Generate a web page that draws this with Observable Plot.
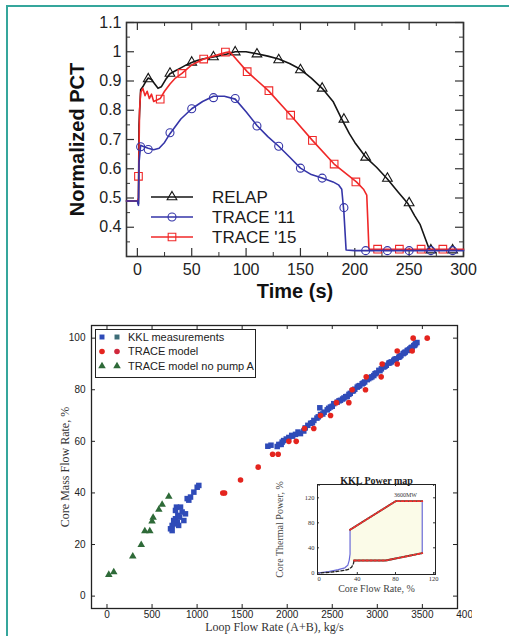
<!DOCTYPE html>
<html><head><meta charset="utf-8">
<script src="https://cdn.jsdelivr.net/npm/d3@7"></script>
<script src="https://cdn.jsdelivr.net/npm/@observablehq/plot@0.6"></script>
<style>
body{margin:0;background:#fff;width:509px;height:636px;position:relative;overflow:hidden;font-family:Liberation Sans,Arial,sans-serif}
.abs{position:absolute}
svg{max-width:none !important}
</style></head><body>
<div class="abs" style="left:6px;top:5px;width:600px;height:700px;border-top:2px solid #35a69c;border-left:2px solid #35a69c"></div>
<div id="top" class="abs" style="left:0;top:0;width:509px;height:310px"></div>
<div id="botclip" class="abs" style="left:0;top:310px;width:472px;height:326px;overflow:hidden"><div id="bot" style="width:509px"></div></div>
<div id="inset" class="abs" style="left:270px;top:465px"></div>
<svg id="leg1" class="abs" style="left:140px;top:185px" width="180" height="62"></svg>
<svg id="leg2" class="abs" style="left:95px;top:329px" width="161" height="49"></svg>
<script>
// ---------- Top chart: Normalized PCT vs time ----------
const relapT = [-10, 0, 1, 1.5, 3, 5, 8, 10, 13, 16, 19, 22, 26, 30, 35, 40, 45, 50, 55, 60, 70, 80, 90, 100, 110, 120, 130, 140, 150, 160, 170, 180, 188, 195, 200, 210, 220, 230, 240, 249, 255, 260, 265, 268, 270, 280, 290, 300];
const relapV = [0.49, 0.49, 0.48, 0.75, 0.87, 0.88, 0.9, 0.91, 0.905, 0.89, 0.875, 0.88, 0.905, 0.925, 0.935, 0.945, 0.955, 0.963, 0.97, 0.975, 0.982, 0.99, 1.0, 1.0, 0.993, 0.985, 0.975, 0.96, 0.94, 0.91, 0.875, 0.83, 0.77, 0.72, 0.69, 0.64, 0.605, 0.565, 0.52, 0.48, 0.44, 0.41, 0.36, 0.33, 0.322, 0.322, 0.322, 0.322];
const relapMkT = [10, 30, 50, 70, 90, 110, 130, 150, 170, 190, 210, 230, 250, 270, 290];
const relapMkV = [0.907, 0.926, 0.964, 0.982, 0.999, 0.992, 0.972, 0.938, 0.875, 0.769, 0.639, 0.567, 0.483, 0.322, 0.322];
const trace11T = [-10, 0, 1, 1.5, 3, 6, 10, 15, 20, 25, 30, 40, 50, 60, 70, 80, 90, 100, 110, 120, 130, 140, 150, 160, 170, 180, 185, 188, 190, 192, 200, 250, 300];
const trace11V = [0.49, 0.49, 0.475, 0.62, 0.68, 0.675, 0.67, 0.665, 0.67, 0.69, 0.72, 0.77, 0.805, 0.83, 0.848, 0.848, 0.838, 0.795, 0.748, 0.71, 0.677, 0.64, 0.602, 0.58, 0.568, 0.555, 0.545, 0.53, 0.45, 0.322, 0.32, 0.32, 0.32];
const trace11MkT = [3, 10, 30, 50, 70, 90, 110, 130, 150, 170, 190, 210, 230, 250, 270, 290];
const trace11MkV = [0.675, 0.666, 0.723, 0.805, 0.843, 0.84, 0.746, 0.677, 0.602, 0.568, 0.467, 0.32, 0.32, 0.32, 0.32, 0.32];
const trace15T = [-10, 0, 1, 2, 3, 5, 7, 9, 11, 13, 15, 18, 21, 25, 30, 35, 41, 50, 61, 70, 81, 85, 101, 120.5, 141, 161, 181, 201.5, 208, 211, 212, 213, 220, 300];
const trace15V = [0.49, 0.49, 0.5, 0.8, 0.86, 0.875, 0.85, 0.865, 0.84, 0.855, 0.83, 0.835, 0.84, 0.865, 0.89, 0.91, 0.926, 0.955, 0.975, 0.985, 0.997, 1.0, 0.932, 0.867, 0.783, 0.697, 0.616, 0.555, 0.53, 0.51, 0.42, 0.325, 0.325, 0.325];
const trace15MkT = [1, 21, 41, 61, 81, 101, 121, 141, 161, 181, 201, 221, 241, 261, 281];
const trace15MkV = [0.574, 0.838, 0.926, 0.975, 0.999, 0.932, 0.867, 0.783, 0.697, 0.616, 0.555, 0.325, 0.325, 0.325, 0.325];
const seriesNames = ["RELAP", "TRACE '11", "TRACE '15"];
const seriesColors = ["#151515", "#3535a8", "#f02828"];
const seriesSymbols = ["triangle", "circle", "square"];
const seriesR = [3.6, 4, 4.3];
const topXMajor = [0, 50, 100, 150, 200, 250, 300];
const topXMinor = [25, 75, 125, 175, 225, 275];
const topYMajor = [0.4, 0.5, 0.6, 0.7, 0.8, 0.9, 1, 1.1];
const topYMinor = [0.35, 0.45, 0.55, 0.65, 0.75, 0.85, 0.95, 1.05];

// ---------- Bottom chart: core mass flow vs loop flow ----------
const kklX = [705, 723, 723, 740, 745, 760, 760, 771, 780, 786, 795, 805, 816, 834, 853, 871, 890, 908, 927, 964, 1001, 1019,
  1785, 1820, 1889, 1907, 1933, 1944, 1960, 1990, 2018, 2050, 2060, 2092, 2120, 2147, 2184, 2200, 2229, 2260, 2280, 2296, 2330, 2345, 2362, 2370, 2395, 2410, 2444, 2460, 2480, 2500, 2517, 2555, 2575, 2591, 2615, 2630, 2650, 2666, 2685, 2700, 2721, 2735, 2750, 2777, 2790, 2805, 2832, 2845, 2860, 2888, 2905, 2925, 2940, 2961, 2975, 2990, 3017, 3030, 3045, 3072, 3085, 3100, 3128, 3140, 3155, 3183, 3195, 3210, 3239, 3250, 3262, 3287, 3300, 3310, 3332, 3345, 3360, 3375, 3387, 3405, 3415, 3424, 3440];
const kklY = [26.1, 25.4, 27.4, 29.3, 28, 33.2, 30, 34.5, 28.5, 31.3, 27.4, 30.6, 34.5, 32.6, 29.3, 31.9, 37.8, 37.2, 38.4, 40.3, 42.2, 42.9,
  58.1, 58.5, 58, 58.8, 58.8, 59.7, 60.3, 60.9, 61.5, 62.3, 62, 62.7, 63.6, 63, 64, 65.2, 66.2, 67, 67.2, 68.1, 69, 69.5, 73, 70.4, 70.6, 71.3, 72.2, 72.8, 73.3, 73.6, 74.6, 75.2, 75.7, 75.9, 76.4, 76.8, 77.3, 77.4, 78.2, 78.6, 79.5, 79.6, 80.2, 81, 81.4, 81.6, 82.3, 82.6, 83, 83.9, 84.3, 84.7, 85, 85.5, 86.2, 86.5, 87.5, 87.4, 88.1, 88.8, 89.1, 89.5, 90.3, 90.5, 90.8, 91.4, 91.8, 92, 92.6, 92.9, 93.3, 94, 94.3, 94.6, 95.2, 95.4, 95.8, 96.3, 96.5, 97.1, 97.3, 97.8, 98.3];
const traceX = [1285, 1305, 1482, 1678, 1838, 1900, 2018, 2100, 2192, 2295, 2370, 2481, 2547, 2684, 2721, 2869, 2877, 3043, 3054, 3221, 3221, 3387, 3398, 3554];
const traceY = [40, 40, 45, 50, 55, 55, 60, 60, 65, 65, 70, 70, 75, 75, 80, 80, 85, 85, 90, 90, 95, 95, 100, 100];
const noPumpX = [20, 75, 286, 380, 420, 475, 500, 512, 575, 612, 686];
const noPumpY = [8.3, 9.3, 15.4, 19.9, 25.2, 25.2, 29, 30.4, 33.5, 35.5, 38.6];
const botXTicks = [0, 500, 1000, 1500, 2000, 2500, 3000, 3500, 4000];
const botYTicks = [0, 20, 40, 60, 80, 100];
const botNames = ["KKL measurements", "TRACE model", "TRACE model no pump A"];

// ---------- Inset: KKL power map ----------
const upperX = [32.4, 80.1, 108], upperY = [68.8, 114.6, 114.6];
const lowerX = [36.6, 69.7, 108], lowerY = [19.7, 19.7, 31.4];
const rightX = [108, 108], rightY = [114.6, 31.4];
const leftX = [0, 10, 20, 27, 30, 31.5, 32.4, 32.4], leftY = [0, 2, 5, 8, 12, 20, 30, 68.8];
const lowX = [2, 12, 22, 30, 34, 36, 36.6], lowY = [0, 1, 3, 5, 9, 15, 19.7];
const insetTicks = [0, 40, 80, 120];
const insetNote = [{x: 90.5, y: 125, label: "3600MW"}];

const pts = (xs, ys) => xs.map((x, i) => ({x, y: ys[i]}));
const sans = "Liberation Sans, Arial, sans-serif";
const serif = "Liberation Serif, Times New Roman, serif";

// Top chart
{
  const H = 234, Wd = 337;
  const lineSets = [[relapT, relapV, relapMkT, relapMkV, 0], [trace15T, trace15V, trace15MkT, trace15MkV, 2], [trace11T, trace11V, trace11MkT, trace11MkV, 1]];
  const marks = [];
  lineSets.forEach(s => {
    const i = s[4];
    marks.push(Plot.line(pts(s[0], s[1]), {x: "x", y: "y", stroke: seriesColors[i], strokeWidth: 1.6}));
    marks.push(Plot.dot(pts(s[2], s[3]), {x: "x", y: "y", symbol: seriesSymbols[i], r: seriesR[i], stroke: seriesColors[i], strokeWidth: 1.1, fill: "none"}));
  });
  const p = Plot.plot({
    width: 509, height: 310, marginTop: 22, marginRight: 46, marginBottom: 54, marginLeft: 126,
    style: {fontFamily: sans, fontSize: "16px", background: "transparent", color: "#222"},
    x: {domain: [-10, 300]}, y: {domain: [0.3, 1.1]},
    marks: [
      Plot.frame({stroke: "#333", strokeWidth: 1.6}),
      Plot.ruleX(topXMajor, {insetTop: H - 8, stroke: "#333", strokeWidth: 1.2}),
      Plot.ruleX(topXMajor, {insetBottom: H - 8, stroke: "#333", strokeWidth: 1.2}),
      Plot.ruleX(topXMinor, {insetTop: H - 4, stroke: "#333", strokeWidth: 1}),
      Plot.ruleX(topXMinor, {insetBottom: H - 4, stroke: "#333", strokeWidth: 1}),
      Plot.ruleY(topYMajor, {insetLeft: Wd - 8, stroke: "#333", strokeWidth: 1.2}),
      Plot.ruleY(topYMajor, {insetRight: Wd - 8, stroke: "#333", strokeWidth: 1.2}),
      Plot.ruleY(topYMinor, {insetLeft: Wd - 4, stroke: "#333", strokeWidth: 1}),
      Plot.ruleY(topYMinor, {insetRight: Wd - 4, stroke: "#333", strokeWidth: 1}),
      Plot.axisX({ticks: topXMajor, tickSize: 0, tickPadding: 7, tickFormat: d => String(d), label: null}),
      Plot.axisY({ticks: topYMajor, tickSize: 0, tickPadding: 5, tickFormat: d => String(d), label: null}),
      ...marks,
      Plot.text(["Normalized PCT"], {frameAnchor: "left", dx: -49, rotate: -90, textAnchor: "middle", fontWeight: "bold", fontSize: 20, fill: "#111"}),
      Plot.text(["Time (s)"], {frameAnchor: "bottom", dy: 41, fontWeight: "bold", fontSize: 20, fill: "#111"})
    ]
  });
  document.getElementById("top").append(p);
}

// Top legend
{
  const svg = d3.select("#leg1");
  seriesNames.forEach((n, i) => {
    const y = 12 + i * 20;
    svg.append("line").attr("x1", 11).attr("x2", 53).attr("y1", y).attr("y2", y).attr("stroke", seriesColors[i]).attr("stroke-width", 1.6);
    const sym = {triangle: d3.symbolTriangle, circle: d3.symbolCircle, square: d3.symbolSquare}[seriesSymbols[i]];
    svg.append("path").attr("d", d3.symbol(sym, Math.PI * seriesR[i] * seriesR[i])()).attr("transform", `translate(32,${y})`)
      .attr("fill", "none").attr("stroke", seriesColors[i]).attr("stroke-width", 1.1);
    svg.append("text").attr("x", 72).attr("y", y).attr("dy", "0.36em").attr("font-size", 17).attr("font-family", sans).attr("fill", "#1a1a1a").text(n);
  });
}

// Bottom chart
{
  const H = 283, Wd = 366;
  const p = Plot.plot({
    width: 509, height: 326, marginTop: 15, marginRight: 52, marginBottom: 28, marginLeft: 91,
    style: {fontFamily: sans, fontSize: "10px", background: "transparent", color: "#222"},
    x: {domain: [-172, 3890], axis: null}, y: {domain: [-4.8, 104.9]},
    marks: [
      Plot.frame({stroke: "#222", strokeWidth: 1.3}),
      Plot.ruleX(botXTicks.filter(d => d < 3890), {insetTop: H - 4, stroke: "#222"}),
      Plot.ruleX(botXTicks.filter(d => d < 3890), {insetBottom: H - 4, stroke: "#222"}),
      Plot.ruleY(botYTicks, {insetLeft: Wd - 4, stroke: "#222"}),
      Plot.ruleY(botYTicks, {insetRight: Wd - 4, stroke: "#222"}),
      Plot.text(botXTicks, {x: d => d, frameAnchor: "bottom", dy: 9, text: d => String(d), fontSize: 10, fill: "#222"}),
      Plot.axisY({ticks: botYTicks, tickSize: 0, tickPadding: 6, tickFormat: d => String(d), label: null}),
      Plot.dot(pts(noPumpX, noPumpY), {x: "x", y: "y", symbol: "triangle", r: 2.8, fill: "#2e6a38"}),
      Plot.dot(pts(kklX, kklY), {x: "x", y: "y", symbol: "square", r: 3.1, fill: "#2f4bb8"}),
      Plot.dot(pts(traceX, traceY), {x: "x", y: "y", r: 2.8, fill: "#e4241e"}),
      Plot.text(["Core Mass Flow Rate, %"], {frameAnchor: "left", dx: -26, rotate: -90, textAnchor: "middle", fontFamily: serif, fontSize: 12, fill: "#333"}),
      Plot.text(["Loop Flow Rate (A+B), kg/s"], {frameAnchor: "bottom", dy: 22, fontFamily: serif, fontSize: 12, fill: "#333"})
    ]
  });
  document.getElementById("bot").append(p);
}

// Bottom legend
{
  const svg = d3.select("#leg2");
  svg.append("rect").attr("x", 0.5).attr("y", 0.5).attr("width", 160).attr("height", 48).attr("fill", "#fff").attr("stroke", "#222");
  const cols = [["#2f4bb8", "#3d6d78"], ["#e4241e", "#d0283c"], ["#2e6a38", "#2e6a38"]];
  const syms = [d3.symbolSquare, d3.symbolCircle, d3.symbolTriangle];
  botNames.forEach((n, i) => {
    const y = 8 + i * 14.5;
    [7, 22].forEach((x, j) => {
      svg.append("path").attr("d", d3.symbol(syms[i], Math.PI * 2.8 * 2.8)()).attr("transform", `translate(${x},${y})`).attr("fill", cols[i][j]);
    });
    svg.append("text").attr("x", 33).attr("y", y).attr("dy", "0.36em").attr("font-size", 11).attr("font-family", sans).attr("fill", "#222").text(n);
  });
}

// Inset
{
  const H = 90, Wd = 118;
  const poly = [...pts(upperX, upperY), ...pts(rightX, rightY), ...pts(lowerX, lowerY).reverse(), ...pts(leftX, leftY).slice(5)];
  const p = Plot.plot({
    width: 180, height: 135, marginTop: 19, marginRight: 15, marginBottom: 26, marginLeft: 47,
    style: {fontFamily: serif, fontSize: "6.5px", background: "transparent", color: "#333"},
    x: {domain: [-1.7, 121.9]}, y: {domain: [-2.7, 141.3]},
    marks: [
      Plot.frame({fill: "#fff"}),
      Plot.line(poly, {x: "x", y: "y", fill: "#fbfbe8", stroke: "none"}),
      Plot.ruleX(insetTicks, {insetTop: H - 2, stroke: "#333"}),
      Plot.ruleX(insetTicks, {insetBottom: H - 2, stroke: "#333"}),
      Plot.ruleY(insetTicks, {insetLeft: Wd - 2, stroke: "#333"}),
      Plot.ruleY(insetTicks, {insetRight: Wd - 2, stroke: "#333"}),
      Plot.axisX({ticks: insetTicks, tickSize: 0, tickPadding: 2, tickFormat: d => String(d), label: null}),
      Plot.axisY({ticks: insetTicks, tickSize: 0, tickPadding: 3, tickFormat: d => String(d), label: null}),
      Plot.line(pts(leftX, leftY), {x: "x", y: "y", stroke: "#6a6ad8", strokeWidth: 1.2}),
      Plot.line(pts(rightX, rightY), {x: "x", y: "y", stroke: "#6a6ad8", strokeWidth: 1.2}),
      Plot.line(pts(lowX, lowY), {x: "x", y: "y", stroke: "#222", strokeWidth: 1.3, strokeDasharray: "3,2"}),
      Plot.line(pts(upperX, upperY), {x: "x", y: "y", stroke: "#2a4a30", strokeWidth: 1.8}),
      Plot.line(pts(upperX, upperY), {x: "x", y: "y", stroke: "#f03030", strokeWidth: 1.8, strokeDasharray: "2,2"}),
      Plot.line(pts(lowerX, lowerY), {x: "x", y: "y", stroke: "#2a4a30", strokeWidth: 1.8}),
      Plot.line(pts(lowerX, lowerY), {x: "x", y: "y", stroke: "#f03030", strokeWidth: 1.8, strokeDasharray: "2,2"}),
      Plot.text(insetNote, {x: "x", y: "y", text: "label", fontSize: 6, fill: "#333"}),
      Plot.frame({stroke: "#222", strokeWidth: 1}),
      Plot.text(["KKL Power map"], {frameAnchor: "top", dy: -8, fontWeight: "bold", fontSize: 10, fill: "#222"}),
      Plot.text(["Core Flow Rate, %"], {frameAnchor: "bottom", dy: 17, fontSize: 10, fill: "#444"}),
      Plot.text(["Core Thermal Power, %"], {frameAnchor: "left", dx: -38, rotate: -90, textAnchor: "middle", fontSize: 10, fill: "#444"})
    ]
  });
  document.getElementById("inset").append(p);
}
</script>
</body></html>
